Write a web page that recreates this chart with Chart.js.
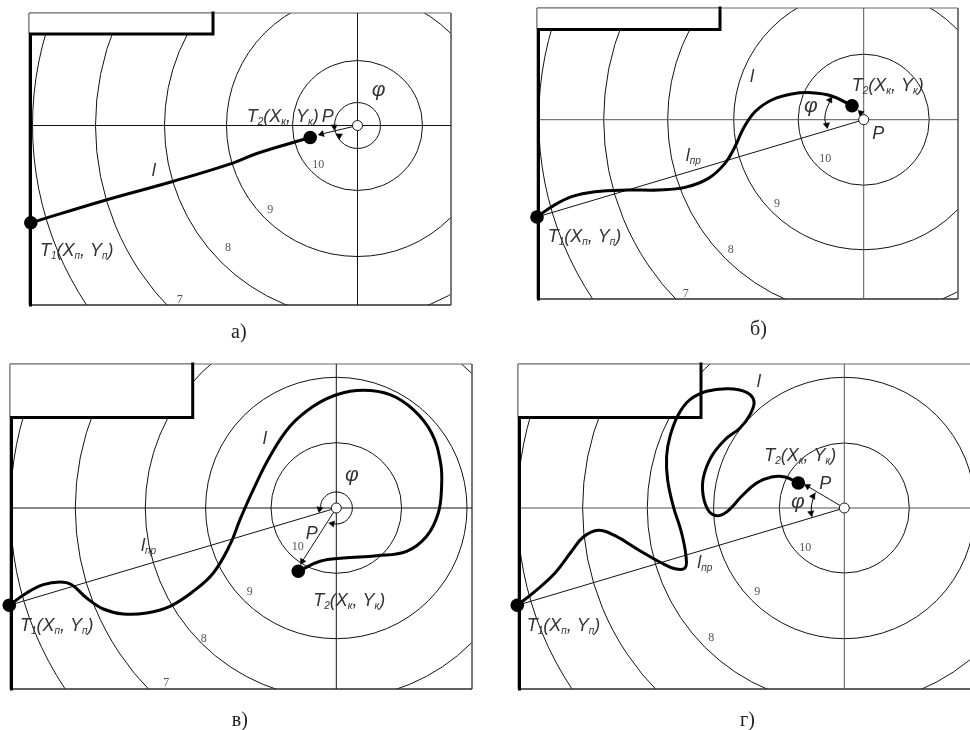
<!DOCTYPE html>
<html>
<head>
<meta charset="utf-8">
<title>Траектории</title>
<script src="https://cdn.jsdelivr.net/npm/chart.js@4/dist/chart.umd.min.js"></script>
<style>
    html, body { margin: 0; width: 970px; height: 730px; overflow: hidden; background: #fff; }
    canvas { position: absolute; }
</style>
</head>
<body>
<canvas id="panelA" width="442" height="352" style="left:19px;top:3px"></canvas>
<canvas id="panelB" width="441" height="351" style="left:527px;top:-2px"></canvas>
<canvas id="panelC" width="482" height="385" style="left:0;top:354px"></canvas>
<canvas id="panelD" width="482" height="385" style="left:508px;top:354px"></canvas>
<script>
/*====================================
        Data (units from target centre)
====================================*/

const ringsA = [23, 65, 131, 193, 262, 325];
const ringsB = [65.5, 130, 196, 260, 325];
const ringsC = [65.3, 130.7, 191, 261, 326];
const ringsD = [65, 130.7, 197, 261.7, 327];

const ringLabels = ["10", "9", "8", "7"];

const pathA = [[-326.7,-97.3],[-252.3,-74.7],[-184,-55.7],[-124,-37.3],[-100.7,-28],[-47.3,-12]];

const pathB = [[-326.7,-97.3],[-312,-87],[-292,-77],[-268.7,-72],[-235.3,-70.3],[-205.3,-70.3],
    [-178.7,-67.7],[-155.3,-58.7],[-138.7,-43.7],[-128.7,-27],[-120.3,-8.7],[-108.7,8],
    [-92,19.7],[-72,25.7],[-52,27],[-32,23.7],[-11.7,14]];

const pathC = [[-327,-97.3],[-309.7,-85],[-293,-76.7],[-276.3,-74],[-264.7,-76.7],[-249.7,-90],
    [-233,-101],[-213,-106],[-189.7,-105],[-166.3,-98.3],[-143,-83.3],[-123,-65],[-106.3,-36.7],
    [-96.3,-11.7],[-83,18.3],[-66.3,51.7],[-46.3,81.7],[-23,101.7],[0.3,113.3],[27,117.7],
    [53.7,113.3],[77,98.3],[95.3,75],[104.3,45],[105.3,21.7],[102,-5],[90.3,-28.3],[70.3,-43.3],
    [40.3,-47.7],[7,-50],[-16.3,-53.3],[-38,-63.3]];

const pathD = [[-327,-97.3],[-309.3,-83.3],[-289.3,-65],[-272.7,-43.3],[-261,-29],[-246,-22.3],
    [-229.3,-27.7],[-206,-41.7],[-182.7,-55],[-169.3,-60.7],[-159.3,-60],[-158.3,-48.3],
    [-162.7,-25],[-171,1.7],[-176.7,28.3],[-177.7,51.7],[-174.3,71.7],[-166,93.3],[-154.3,108.3],
    [-137.7,116.7],[-116,119.3],[-97.7,115.7],[-90.3,106.7],[-94.3,93.3],[-104.3,80],[-119.3,68.3],
    [-132.7,51.7],[-141,30],[-141,11.7],[-135.3,-3.3],[-126,-7.7],[-116,-2.7],[-102.7,11.7],
    [-87.7,25],[-72.7,31],[-59.3,31],[-46,25]];

const arcB = [[-32,21.4],[-36,13.5],[-38.5,5],[-38.5,-2],[-36.4,-7]];
const arcC = [[-15.8,-2.5],[-15,5.5],[-11,11.6],[-5,15.2],[0,16],[5,15.2],[11,11.6],[15,5.5],
    [16,0],[15,-5.5],[11,-11.6],[5,-15.2],[0,-16],[-4,-15.5]];
const arcD = [[-29,15],[-31.5,8],[-33,0],[-32.3,-8.3]];

// arrow heads: position and direction in degrees
const headsA = [{x:-35.8,y:-8.5,dir:255},{x:-23.2,y:-1.2,dir:180},{x:-18.2,y:-10.2,dir:300}];
const headsB = [{x:-3,y:7,dir:315},{x:-33.7,y:19.7,dir:30},{x:-37,y:-5.3,dir:170}];
const headsC = [{x:-34,y:-53.3,dir:210},{x:-16.7,y:-1,dir:190},{x:-4,y:-15.7,dir:280}];
const headsD = [{x:-36.7,y:21.7,dir:300},{x:-31.3,y:11.7,dir:30},{x:-33.3,y:-5,dir:170}];

// text, as [string, isSubscript] runs
const textT1 = [["T",0],["1",1],["(X",0],["п",1],[", Y",0],["п",1],[")",0]];
const textT2 = [["T",0],["2",1],["(X",0],["к",1],[", Y",0],["к",1],[")",0]];
const textL = [["l",0]];
const textLpr = [["l",0],["пр",1]];
const textP = [["P",0]];
const textPhi = [["φ",2]];

const captions = ["а)", "б)", "в)", "г)"];

/*====================================
        Panel setup
====================================*/

const PAD = 10;
const BOTTOM = 50;
const RUN_FONTS = ["italic 18px 'Liberation Sans'", "italic 10px 'Liberation Sans'", "italic 21px 'Liberation Sans'"];

function thin(points, clip, color) {
    return { type: "scatter", data: points, showLine: true, tension: 0, pointRadius: 0,
             borderColor: color || "#222", borderWidth: 1, clip: clip };
}

function smooth(points, width) {
    return { type: "scatter", data: points, showLine: true, tension: 0.4, cubicInterpolationMode: "default",
             pointRadius: 0, borderColor: "#000", borderWidth: width, clip: false,
             borderCapStyle: "round", borderJoinStyle: "round" };
}

function buildPanel(id, p) {

    const xr = p.xRange, yr = p.yRange;
    const corners = [[xr[0],yr[1]],[xr[1],yr[1]],[xr[1],yr[0]],[xr[0],yr[0]],[xr[0],yr[1]]];
    const notch = [[xr[0],yr[1]],[p.notch[0],yr[1]],[p.notch[0],p.notch[1]],[xr[0],p.notch[1]],[xr[0],yr[1]]];
    const wall = [[p.notch[0],yr[1]],[p.notch[0],p.notch[1]],[xr[0]+1.5,p.notch[1]],[xr[0]+1.5,yr[0]]];

    // listed bottom layer first
    const layers = [
        { type: "bubble", data: p.rings.map(r => ({x: 0, y: 0, r: r})), backgroundColor: "transparent",
          borderColor: "#111", borderWidth: 1, clip: 0 },
        thin(corners, false, "#666"),
        thin([[xr[0],yr[0]],[xr[1],yr[0]]], false, "#111"),
        thin([[xr[0],0],[xr[1],0]], false, p.crossColor),
        thin([[0,yr[0]],[0,yr[1]]], false, p.crossColor),
        Object.assign(thin(notch, false, "#666"), { fill: "shape", backgroundColor: "#fff" }),
        { type: "scatter", data: wall, showLine: true, tension: 0, pointRadius: 0, borderColor: "#000",
          borderWidth: 3, clip: false, borderCapStyle: "square", borderJoinStyle: "miter" }
    ];

    if (p.baseline) layers.push(thin([p.path[0],[0,0]], false, "#111"));
    layers.push(thin([[0,0], [p.heads[0].x, p.heads[0].y]], false, "#111"));
    if (p.arc) layers.push(smooth(p.arc, 1));
    layers.push(smooth(p.path, 3));
    layers.push({ type: "scatter", data: p.heads, showLine: false, pointStyle: "triangle",
                  pointRadius: 3.6, pointRotation: ctx => ctx.raw ? ctx.raw.dir : 0,
                  backgroundColor: "#000", borderColor: "#000", borderWidth: 0.5, clip: false });
    layers.push({ type: "scatter", data: [p.path[0], p.path[p.path.length-1]], showLine: false,
                  pointRadius: 6.8, backgroundColor: "#000", borderColor: "#000", borderWidth: 0, clip: false });
    layers.push({ type: "scatter", data: [[0,0]], showLine: false, pointRadius: 5,
                  backgroundColor: "#fff", borderColor: "#111", borderWidth: 1, clip: false });

    layers.forEach((d, i) => { d.order = layers.length - i; });

    const textLayer = {
        id: "panelText",
        afterDatasetsDraw(chart) {
            const ctx = chart.ctx;
            const sx = chart.scales.x, sy = chart.scales.y;
            ctx.save();
            ctx.textBaseline = "alphabetic";
            p.labels.forEach(l => {
                let px = sx.getPixelForValue(l.x);
                const py = sy.getPixelForValue(l.y);
                l.runs.forEach(run => {
                    ctx.font = RUN_FONTS[run[1]];
                    ctx.fillStyle = "#333";
                    ctx.fillText(run[0], px, py + (run[1] === 1 ? 3 : 0));
                    px += ctx.measureText(run[0]).width;
                });
            });
            ctx.fillStyle = "#555";
            ctx.font = "12px 'Liberation Serif'";
            p.ringText.forEach((pos, i) => {
                ctx.fillText(ringLabels[i], sx.getPixelForValue(pos[0]), sy.getPixelForValue(pos[1]));
            });
            ctx.fillStyle = "#222";
            ctx.font = "20px 'Liberation Serif'";
            ctx.fillText(p.caption, sx.getPixelForValue(p.captionAt[0]), sy.getPixelForValue(p.captionAt[1]));
            ctx.restore();
        }
    };

    return new Chart(document.getElementById(id), {
        data: { datasets: layers },
        plugins: [textLayer],
        options: {
            responsive: false,
            animation: false,
            events: [],
            devicePixelRatio: 1,
            layout: { autoPadding: false, padding: { left: PAD, right: PAD, top: PAD, bottom: BOTTOM } },
            plugins: { legend: { display: false }, title: { display: false }, tooltip: { enabled: false } },
            elements: { line: { capBezierPoints: false } },
            scales: {
                x: { type: "linear", display: false, min: xr[0], max: xr[1] },
                y: { type: "linear", display: false, min: yr[0], max: yr[1] }
            }
        }
    });
}

buildPanel("panelA", {
    xRange: [-328.5, 93.5], yRange: [-179.5, 112.5], notch: [-144.5, 91.5], rings: ringsA,
    crossColor: "#111", path: pathA, heads: headsA, baseline: false, arc: null,
    labels: [
        { runs: textT2, x: -110.8, y: 3.8 }, { runs: textP, x: -35.8, y: 3.8 },
        { runs: textPhi, x: 14.2, y: 29.8 }, { runs: textL, x: -205.8, y: -50.2 },
        { runs: textT1, x: -317.5, y: -130.2 }
    ],
    ringText: [[-45.2,-42.2],[-90.2,-87.8],[-132.5,-125.2],[-180.8,-177.8]],
    caption: captions[0], captionAt: [-126.5,-212.5]
});

buildPanel("panelB", {
    xRange: [-326.7, 94.3], yRange: [-179.3, 111.7], notch: [-143.7, 90.2], rings: ringsB,
    crossColor: "#555", path: pathB, heads: headsB, baseline: true, arc: arcB,
    labels: [
        { runs: textT2, x: -12, y: 29 }, { runs: textP, x: 8.6, y: -19.3 },
        { runs: textPhi, x: -59.7, y: 8 }, { runs: textL, x: -113.7, y: 38 },
        { runs: textLpr, x: -178, y: -41 }, { runs: textT1, x: -316, y: -122 }
    ],
    ringText: [[-44.4,-42],[-89.7,-87.6],[-136,-133],[-181,-177]],
    caption: captions[1], captionAt: [-113.7,-215.3]
});

buildPanel("panelC", {
    xRange: [-326.3, 135.7], yRange: [-181, 144], notch: [-143.6, 90.6], rings: ringsC,
    crossColor: "#111", path: pathC, heads: headsC, baseline: true, arc: arcC,
    labels: [
        { runs: textT2, x: -23, y: -98.4 }, { runs: textP, x: -30.6, y: -31 },
        { runs: textPhi, x: 8.7, y: 26.6 }, { runs: textL, x: -73.6, y: 64.3 },
        { runs: textLpr, x: -195.3, y: -43.4 }, { runs: textT1, x: -316.3, y: -123.4 }
    ],
    ringText: [[-44.6,-42.4],[-89.6,-87.4],[-135.6,-134],[-173,-178.4]],
    caption: captions[2], captionAt: [-104.6,-218.4]
});

buildPanel("panelD", {
    xRange: [-326.3, 135.7], yRange: [-181, 144], notch: [-143.3, 90.6], rings: ringsD,
    crossColor: "#555", path: pathD, heads: headsD, baseline: true, arc: arcD,
    labels: [
        { runs: textT2, x: -80, y: 47.3 }, { runs: textP, x: -25, y: 19.3 },
        { runs: textPhi, x: -53.3, y: 0 }, { runs: textL, x: -87.6, y: 121 },
        { runs: textLpr, x: -147, y: -60 }, { runs: textT1, x: -317.6, y: -123.4 }
    ],
    ringText: [[-45,-42.7],[-90,-87.4],[-136,-133.4]],
    caption: captions[3], captionAt: [-104.3,-218.4]
});
</script>
</body>
</html>
